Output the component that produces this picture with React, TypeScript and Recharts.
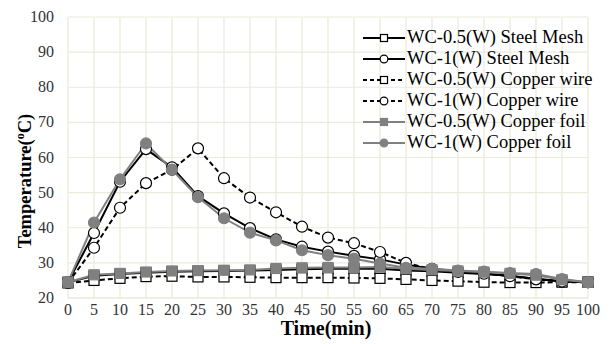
import { LineChart, Line, XAxis, YAxis, CartesianGrid, Legend, Label } from 'recharts'

// time axis (min)
const minutes = [0, 5, 10, 15, 20, 25, 30, 35, 40, 45, 50, 55, 60, 65, 70, 75, 80, 85, 90, 95, 100]
const tempTicks = [20, 30, 40, 50, 60, 70, 80, 90, 100]

// temperatures (°C)
const steelMesh05 = [24.5, 26.3, 26.8, 27.2, 27.5, 27.6, 27.7, 27.8, 28.0, 28.2, 28.3, 28.3, 28.3, 27.8, 27.6, 27.2, 26.8, 26.3, 25.5, 24.8, 24.5]
const steelMesh1 = [24.5, 38.5, 53.1, 62.4, 57.2, 49.0, 44.1, 39.9, 36.7, 34.6, 33.2, 32.0, 31.0, 29.5, 28.3, 27.6, 27.0, 26.3, 25.4, 24.7, 24.5]
const copperWire05 = [24.3, 25.0, 25.6, 26.1, 26.2, 26.0, 26.0, 25.9, 25.8, 25.8, 25.8, 25.7, 25.6, 25.3, 25.0, 24.8, 24.5, 24.4, 24.4, 24.5, 24.5]
const copperWire1 = [24.3, 34.3, 45.7, 52.7, 56.5, 62.6, 54.1, 48.6, 44.4, 40.3, 37.2, 35.6, 33.1, 30.0, 28.2, 27.4, 26.9, 26.2, 25.3, 24.7, 24.5]
const copperFoil05 = [24.5, 26.6, 27.0, 27.4, 27.7, 27.8, 27.9, 28.0, 28.4, 28.6, 28.7, 28.7, 28.8, 28.3, 28.0, 27.7, 27.4, 27.0, 26.5, 25.2, 24.5]
const copperFoil1 = [24.5, 41.5, 53.8, 64.0, 56.5, 48.7, 42.7, 38.6, 36.4, 33.6, 32.2, 31.2, 29.8, 28.6, 28.3, 27.8, 27.5, 27.1, 26.8, 25.4, 24.5]

type Shape = 'square' | 'circle'

const SERIES: { key: string; name: string; values: number[]; color: string; dash?: string; shape: Shape; filled: boolean }[] = [
  { key: 'sm05', name: 'WC-0.5(W) Steel Mesh', values: steelMesh05, color: '#000', shape: 'square', filled: false },
  { key: 'sm1', name: 'WC-1(W) Steel Mesh', values: steelMesh1, color: '#000', shape: 'circle', filled: false },
  { key: 'cw05', name: 'WC-0.5(W) Copper wire', values: copperWire05, color: '#000', dash: '5 3', shape: 'square', filled: false },
  { key: 'cw1', name: 'WC-1(W) Copper wire', values: copperWire1, color: '#000', dash: '5 3', shape: 'circle', filled: false },
  { key: 'cf05', name: 'WC-0.5(W) Copper foil', values: copperFoil05, color: '#808080', shape: 'square', filled: true },
  { key: 'cf1', name: 'WC-1(W) Copper foil', values: copperFoil1, color: '#808080', shape: 'circle', filled: true },
]

const data = minutes.map((t, i) => {
  const row: Record<string, number> = { t }
  SERIES.forEach((s) => (row[s.key] = s.values[i]))
  return row
})

const FONT = '"Liberation Serif", "Times New Roman", serif'
const GRID = '#EBEADB'

function Marker({ cx, cy, shape, filled, color, size = 1 }: { cx?: number; cy?: number; shape: Shape; filled: boolean; color: string; size?: number }) {
  if (cx == null || cy == null) return null
  const fill = filled ? color : '#fff'
  const stroke = filled ? color : '#000'
  if (shape === 'square') {
    const h = 5 * size
    return <rect x={cx - h} y={cy - h} width={h * 2} height={h * 2} fill={fill} stroke={stroke} strokeWidth={1.2} />
  }
  return <circle cx={cx} cy={cy} r={5.5 * size} fill={fill} stroke={stroke} strokeWidth={1.2} />
}

function XTick({ x, y, payload }: any) {
  return (
    <text x={x} y={y + 13} textAnchor="middle" fontFamily={FONT} fontSize={16} fill="#333">
      {payload.value}
    </text>
  )
}

function YTick({ x, y, payload }: any) {
  return (
    <text x={x} y={y + 5} textAnchor="end" fontFamily={FONT} fontSize={16} fill="#333">
      {payload.value}
    </text>
  )
}

function LegendBox() {
  return (
    <div style={{ fontFamily: FONT, fontSize: 18.5, color: '#000', lineHeight: '21px' }}>
      {SERIES.map((s) => (
        <div key={s.key} style={{ display: 'flex', alignItems: 'center', height: 21 }}>
          <svg width={42} height={14} style={{ marginRight: 2 }}>
            <line x1={0} y1={7} x2={42} y2={7} stroke={s.color} strokeWidth={2} strokeDasharray={s.dash ? '4 3' : undefined} />
            <Marker cx={21} cy={7} shape={s.shape} filled={s.filled} color={s.color} size={0.7} />
          </svg>
          <span style={{ whiteSpace: 'nowrap' }}>{s.name}</span>
        </div>
      ))}
    </div>
  )
}

export default function App() {
  return (
    <div style={{ position: 'absolute', left: 0, top: 0, width: 610, height: 344, background: '#fff', fontFamily: FONT }}>
      <LineChart width={610} height={344} data={data} margin={{ top: 17, right: 22, bottom: 0, left: 8 }}>
        <CartesianGrid stroke={GRID} strokeWidth={1.2} />
        <XAxis
          dataKey="t"
          type="number"
          domain={[0, 100]}
          ticks={minutes}
          interval={0}
          height={46}
          axisLine={{ stroke: GRID }}
          tickLine={false}
          tickSize={0}
          tickMargin={4}
          tick={<XTick />}
        >
          <Label
            content={() => (
              <text x={326} y={335} textAnchor="middle" fontFamily={FONT} fontSize={20} fontWeight="bold" fill="#000">
                Time(min)
              </text>
            )}
          />
        </XAxis>
        <YAxis
          type="number"
          domain={[20, 100]}
          ticks={tempTicks}
          interval={0}
          width={60}
          axisLine={false}
          tickLine={false}
          tickSize={0}
          tickMargin={14}
          tick={<YTick />}
        >
          <Label
            content={() => (
              <text x={31} y={181} transform="rotate(-90 31 181)" textAnchor="middle" fontFamily={FONT} fontSize={18.5} fontWeight="bold" fill="#000">
                Temperature(<tspan fontSize={12} dy={-7}>o</tspan><tspan dy={7}>C)</tspan>
              </text>
            )}
          />
        </YAxis>
        <Legend
          layout="vertical"
          align="center"
          verticalAlign="middle"
          wrapperStyle={{ top: 27, left: 363, width: 245 }}
          content={() => <LegendBox />}
        />
        {SERIES.map((s) => (
          <Line
            key={s.key}
            dataKey={s.key}
            name={s.name}
            type="linear"
            stroke={s.color}
            strokeWidth={2}
            strokeDasharray={s.dash}
            dot={(p: any) => <Marker key={`${s.key}-${p.index}`} cx={p.cx} cy={p.cy} shape={s.shape} filled={s.filled} color={s.color} />}
            isAnimationActive={false}
          />
        ))}
      </LineChart>
    </div>
  )
}
